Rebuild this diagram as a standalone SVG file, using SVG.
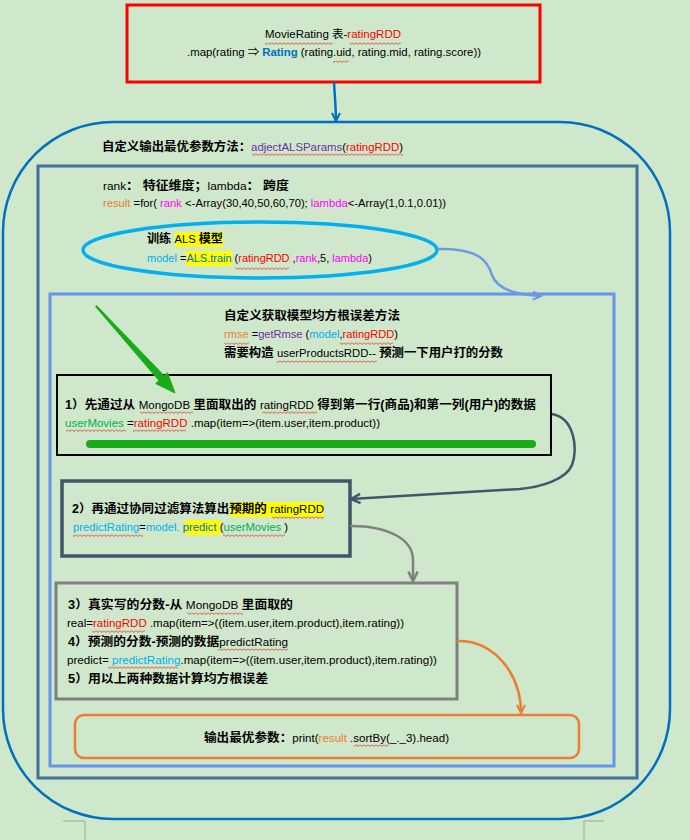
<svg xmlns="http://www.w3.org/2000/svg" width="690" height="840" viewBox="0 0 690 840">
<defs>
<style>
text{font-family:"Liberation Sans","Noto Sans CJK SC",sans-serif;font-size:11px;fill:#000}
.b{font-weight:bold;font-size:12px}
.red{fill:#ff0000}.blue{fill:#0070c0}.pur{fill:#7030a0}.mag{fill:#ff00ff}.org{fill:#ed7d31}.cyan{fill:#00b0f0}.grn{fill:#00b050}
.hl{fill:#ffff00}
.sq{fill:url(#sq)}
</style>
<pattern id="sq" width="4" height="3" patternUnits="userSpaceOnUse"><path d="M0,0.5 L2,2.5 L4,0.5" stroke="#e02020" stroke-width="0.8" fill="none"/></pattern>
<marker id="aBlue" viewBox="0 0 12 12" refX="10" refY="6" markerWidth="12" markerHeight="12" markerUnits="userSpaceOnUse" orient="auto"><path d="M2,2 L10,6 L2,10" fill="none" stroke="#0070c0" stroke-width="2"/></marker>
<marker id="aCorn" viewBox="0 0 12 12" refX="10" refY="6" markerWidth="12" markerHeight="12" markerUnits="userSpaceOnUse" orient="auto"><path d="M2,2 L10,6 L2,10" fill="none" stroke="#6d98e6" stroke-width="2"/></marker>
<marker id="aSlate" viewBox="0 0 12 12" refX="10" refY="6" markerWidth="14" markerHeight="14" markerUnits="userSpaceOnUse" orient="auto"><path d="M2,2 L10,6 L2,10" fill="none" stroke="#44546a" stroke-width="2.2"/></marker>
<marker id="aGray" viewBox="0 0 12 12" refX="10" refY="6" markerWidth="14" markerHeight="14" markerUnits="userSpaceOnUse" orient="auto"><path d="M2,2 L10,6 L2,10" fill="none" stroke="#808080" stroke-width="2.2"/></marker>
<marker id="aOrg" viewBox="0 0 12 12" refX="10" refY="6" markerWidth="12" markerHeight="12" markerUnits="userSpaceOnUse" orient="auto"><path d="M2,2 L10,6 L2,10" fill="none" stroke="#ed7d31" stroke-width="2"/></marker>
</defs>
<rect width="690" height="840" fill="#cfe7ca"/>
<!-- page corner marks -->
<path d="M63,821 H85 V840 M604,821 H584 V840" stroke="#9aab96" stroke-width="1" fill="none"/>

<g id="source">
<rect x="127" y="5" width="413" height="77" fill="none" stroke="#ff0000" stroke-width="3"/>
<text x="265" y="38" textLength="136" lengthAdjust="spacingAndGlyphs">MovieRating 表-<tspan class="red">ratingRDD</tspan></text>
<text x="187" y="56" textLength="294" lengthAdjust="spacingAndGlyphs">.map(rating ⇒ <tspan class="blue" font-weight="bold">Rating</tspan> (rating.uid, rating.mid, rating.score))</text>
<rect class="sq" x="265" y="42" width="68" height="3"/><rect class="sq" x="350" y="42" width="51" height="3"/><rect class="sq" x="333" y="60" width="16" height="3"/>
</g>

<g id="adjectALSParams">
<rect x="3" y="122" width="667" height="697" rx="110" ry="110" fill="none" stroke="#0070c0" stroke-width="2.5"/>
<text x="102" y="151" textLength="301" lengthAdjust="spacingAndGlyphs"><tspan class="b">自定义输出最优参数方法：</tspan><tspan class="pur">adjectALSParams</tspan>(<tspan class="red">ratingRDD</tspan>)</text>
<rect class="sq" x="252" y="153" width="151" height="3"/>
</g>

<g id="loop">
<rect x="38" y="166" width="599" height="612" fill="none" stroke="#41719c" stroke-width="3"/>
<text x="103" y="190" textLength="186" lengthAdjust="spacingAndGlyphs">rank<tspan class="b">： 特征维度；</tspan>lambda<tspan class="b">： 跨度</tspan></text>
<text x="103" y="207" textLength="343" lengthAdjust="spacingAndGlyphs"><tspan class="org">result</tspan> =for( <tspan class="mag">rank</tspan> &lt;-Array(30,40,50,60,70); <tspan class="mag">lambda</tspan>&lt;-Array(1,0.1,0.01))</text>
</g>

<g id="trainALS">
<ellipse cx="260" cy="250" rx="177" ry="28" fill="none" stroke="#00b0f0" stroke-width="3.5"/>
<rect class="hl" x="175" y="232" width="48" height="15"/>
<rect class="hl" x="186" y="251" width="46" height="15"/>
<text x="147" y="243" textLength="76" lengthAdjust="spacingAndGlyphs"><tspan class="b">训练 </tspan>ALS  <tspan class="b">模型</tspan></text>
<text x="147" y="262" textLength="225" lengthAdjust="spacingAndGlyphs"><tspan class="cyan">model</tspan> =<tspan class="blue">ALS.train</tspan> (<tspan class="red">ratingRDD</tspan> ,<tspan class="mag">rank</tspan>,5, <tspan class="mag">lambda</tspan>)</text>
<rect class="sq" x="235" y="267" width="54" height="3"/>
</g>

<g id="getRmse">
<rect x="50" y="294" width="564" height="472" fill="none" stroke="#6495ed" stroke-width="3"/>
<text x="224" y="320" class="b" textLength="176" lengthAdjust="spacingAndGlyphs">自定义获取模型均方根误差方法</text>
<text x="224" y="338" textLength="174" lengthAdjust="spacingAndGlyphs"><tspan class="org">rmse</tspan> =<tspan class="pur">getRmse</tspan> (<tspan class="cyan">model</tspan>,<tspan class="red">ratingRDD</tspan>)</text>
<text x="224" y="357" textLength="279" lengthAdjust="spacingAndGlyphs"><tspan class="b">需要构造 </tspan>userProductsRDD-- <tspan class="b">预测一下用户打的分数</tspan></text>
<rect class="sq" x="224" y="342" width="25" height="3"/><rect class="sq" x="340" y="342" width="53" height="3"/><rect class="sq" x="277" y="360" width="100" height="3"/>
</g>

<g id="step1">
<rect x="57" y="375" width="494" height="80" fill="none" stroke="#000" stroke-width="2"/>
<text x="65" y="409" textLength="471" lengthAdjust="spacingAndGlyphs"><tspan class="b">1）先通过从 </tspan>MongoDB <tspan class="b">里面取出的 </tspan>ratingRDD <tspan class="b">得到第一行(商品)和第一列(用户)的数据</tspan></text>
<text x="65" y="427" textLength="315" lengthAdjust="spacingAndGlyphs"><tspan class="grn">userMovies</tspan> =<tspan class="red">ratingRDD</tspan> .map(item=&gt;(item.user,item.product))</text>
<line x1="90" y1="444" x2="532" y2="444" stroke="#1aab1a" stroke-width="8" stroke-linecap="round"/>
<rect class="sq" x="140" y="411" width="53" height="3"/><rect class="sq" x="262" y="411" width="55" height="3"/><rect class="sq" x="66" y="429" width="60" height="3"/><rect class="sq" x="133" y="429" width="53" height="3"/>
</g>

<g id="step2">
<rect x="62" y="481" width="288" height="75" fill="none" stroke="#44546a" stroke-width="3.5"/>
<rect class="hl" x="230" y="502" width="94" height="15"/>
<rect class="hl" x="185" y="520" width="36" height="15"/>
<text x="72" y="513" textLength="252" lengthAdjust="spacingAndGlyphs"><tspan class="b">2）再通过协同过滤算法算出预期的 </tspan>ratingRDD</text>
<text x="73" y="531" textLength="215" lengthAdjust="spacingAndGlyphs"><tspan class="cyan">predictRating</tspan>=<tspan class="cyan">model.</tspan> <tspan class="blue">predict</tspan> (<tspan class="grn">userMovies</tspan> )</text>
<rect class="sq" x="272" y="516" width="52" height="3"/><rect class="sq" x="73" y="534" width="70" height="3"/><rect class="sq" x="223" y="534" width="62" height="3"/>
</g>

<g id="step3">
<rect x="56" y="583" width="401" height="116" fill="none" stroke="#808080" stroke-width="3"/>
<text x="68" y="609" textLength="225" lengthAdjust="spacingAndGlyphs"><tspan class="b">3）真实写的分数-从 </tspan>MongoDB <tspan class="b">里面取的</tspan></text>
<text x="67" y="627" textLength="337" lengthAdjust="spacingAndGlyphs">real=<tspan class="red">ratingRDD</tspan> .map(item=&gt;((item.user,item.product),item.rating))</text>
<text x="68" y="646" textLength="220" lengthAdjust="spacingAndGlyphs"><tspan class="b">4）预测的分数-预测的数据</tspan>predictRating</text>
<text x="67" y="664" textLength="370" lengthAdjust="spacingAndGlyphs">predict= <tspan class="cyan">predictRating</tspan>.map(item=&gt;((item.user,item.product),item.rating))</text>
<text x="68" y="683" class="b" textLength="200" lengthAdjust="spacingAndGlyphs">5）用以上两种数据计算均方根误差</text>
<rect class="sq" x="187" y="612" width="56" height="3"/><rect class="sq" x="92" y="630" width="53" height="3"/><rect class="sq" x="218" y="648" width="70" height="3"/><rect class="sq" x="108" y="666" width="70" height="3"/>
</g>

<g id="output">
<rect x="75" y="715" width="504" height="43" rx="9" ry="9" fill="none" stroke="#ed7d31" stroke-width="2.5"/>
<text x="204" y="742" textLength="245" lengthAdjust="spacingAndGlyphs"><tspan class="b">输出最优参数：</tspan>print(<tspan class="org">result</tspan> .sortBy(_._3).head)</text>
<rect class="sq" x="354" y="744" width="35" height="3"/>
</g>

<g id="connectors" fill="none">
<path d="M334,82 C335,100 336,110 336,121" stroke="#0070c0" stroke-width="2.5" marker-end="url(#aBlue)"/>
<path d="M438,249 C480,248 488,262 492,275 C497,290 520,295 541,296" stroke="#6d98e6" stroke-width="2.5" marker-end="url(#aCorn)"/>
<path d="M552,414 C575,418 578,450 572,465 C566,480 540,487 520,489 L351,499" stroke="#44546a" stroke-width="2.5" marker-end="url(#aSlate)"/>
<path d="M350,526 C390,526 413,540 413,560 L413,581" stroke="#808080" stroke-width="2.5" marker-end="url(#aGray)"/>
<path d="M457,641 C495,640 521,675 521,713" stroke="#ed7d31" stroke-width="2.5" marker-end="url(#aOrg)"/>
<polygon points="96.5,305.5 164.2,375.8 167.5,372.8 175,393 155.7,383.6 159,380.6 95.5,306.5" fill="#1aab1a" stroke="#1aab1a" stroke-width="1" stroke-linejoin="round"/>
</g>
</svg>
